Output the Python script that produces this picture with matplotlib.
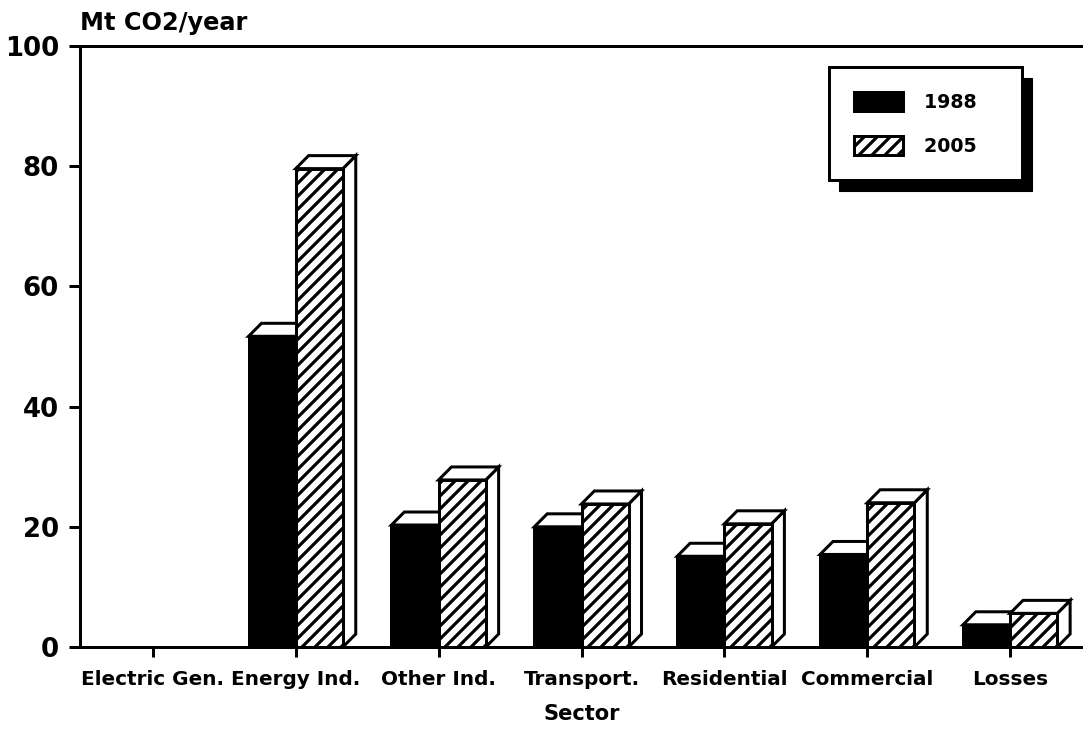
import matplotlib
matplotlib.use("Agg")
import matplotlib.pyplot as plt
from matplotlib.patches import Polygon, Rectangle, Patch

# dpi chosen so that the '//' hatch spacing is close to the reference (~13 px)
DPI = 78


def pt(px):
    # pixels -> points for this dpi
    return px * 72.0 / DPI


sectors = ["Electric Gen.", "Energy Ind.", "Other Ind.", "Transport.",
           "Residential", "Commercial", "Losses"]
years = ["1988", "2005"]
co2_1988 = [0, 51.7, 20.3, 20.0, 15.1, 15.4, 3.7]
co2_2005 = [0, 79.6, 27.8, 23.8, 20.5, 24.0, 5.6]
yticks = [0, 20, 40, 60, 80, 100]

plt.rcParams['font.family'] = ['DejaVu Sans']
plt.rcParams['font.weight'] = 'bold'
plt.rcParams['hatch.linewidth'] = pt(3.2)
plt.rcParams['hatch.color'] = 'black'

fig = plt.figure(figsize=(1083 / DPI, 734 / DPI), dpi=DPI)
ax = fig.add_axes([80 / 1083, 87 / 734, 1003 / 1083, 601 / 734])

bar_w = 0.33
dx = 0.09   # depth of the 3D box, x units
dy = 2.16   # depth of the 3D box, y units
lw = pt(3)


def draw_bar(x0, h, face, hatch):
    if h <= 0:
        return
    x1 = x0 + bar_w
    side = Polygon([(x1, 0), (x1 + dx, dy), (x1 + dx, h + dy), (x1, h)],
                   closed=True, fc='white', ec='black', lw=lw, joinstyle='miter')
    top = Polygon([(x0, h), (x0 + dx, h + dy), (x1 + dx, h + dy), (x1, h)],
                  closed=True, fc='white', ec='black', lw=lw, joinstyle='miter')
    front = Rectangle((x0, 0), bar_w, h, fc=face, ec='black', lw=lw,
                      hatch=hatch, joinstyle='miter')
    for p in (side, top, front):
        ax.add_patch(p)


for i in range(len(sectors)):
    draw_bar(i - bar_w, co2_1988[i], 'black', None)
for i in range(len(sectors)):
    draw_bar(i, co2_2005[i], 'white', '//')

ax.set_xlim(-0.51, 6.51)
ax.set_ylim(0, 100)
for s in ['left', 'top', 'bottom']:
    ax.spines[s].set_linewidth(lw)
ax.spines['right'].set_visible(False)

ax.set_yticks(yticks)
ax.set_xticks(range(len(sectors)))
ax.set_xticklabels(sectors)
ax.tick_params(axis='y', direction='out', length=pt(11), width=lw,
               labelsize=pt(26), pad=pt(10))
ax.tick_params(axis='x', direction='out', length=pt(10), width=lw,
               labelsize=pt(20), pad=pt(13))
ax.set_xlabel("Sector", fontsize=pt(21), fontweight='bold', labelpad=pt(15))

fig.text(80 / 1083, (734 - 30) / 734, "Mt CO2/year", fontsize=pt(24),
         fontweight='bold', ha='left', va='baseline')

# legend with a solid black drop shadow
handles = [Patch(fc='black', ec='black', lw=lw),
           Patch(fc='white', ec='black', lw=lw, hatch='//')]
labels = [y + "   " for y in years]
leg = ax.legend(handles, labels, loc='upper left', bbox_to_anchor=(0.747, 0.965),
                borderaxespad=0, frameon=True, fancybox=False, edgecolor='black',
                framealpha=1, fontsize=pt(19), handlelength=2.6, handleheight=1.2,
                handletextpad=1.1, labelspacing=1.25, borderpad=1.3)
leg.get_frame().set_linewidth(lw)

fig.canvas.draw()
bb = leg.get_window_extent()
inv = ax.transAxes.inverted()
(ax0, ay0), (ax1, ay1) = inv.transform([(bb.x0 + 10, bb.y0 - 11), (bb.x1 + 10, bb.y1 - 11)])
ax.add_patch(Rectangle((ax0, ay0), ax1 - ax0, ay1 - ay0, transform=ax.transAxes,
                       fc='black', ec='black', zorder=4.9, clip_on=False))

fig.savefig("out.png", dpi=DPI)
